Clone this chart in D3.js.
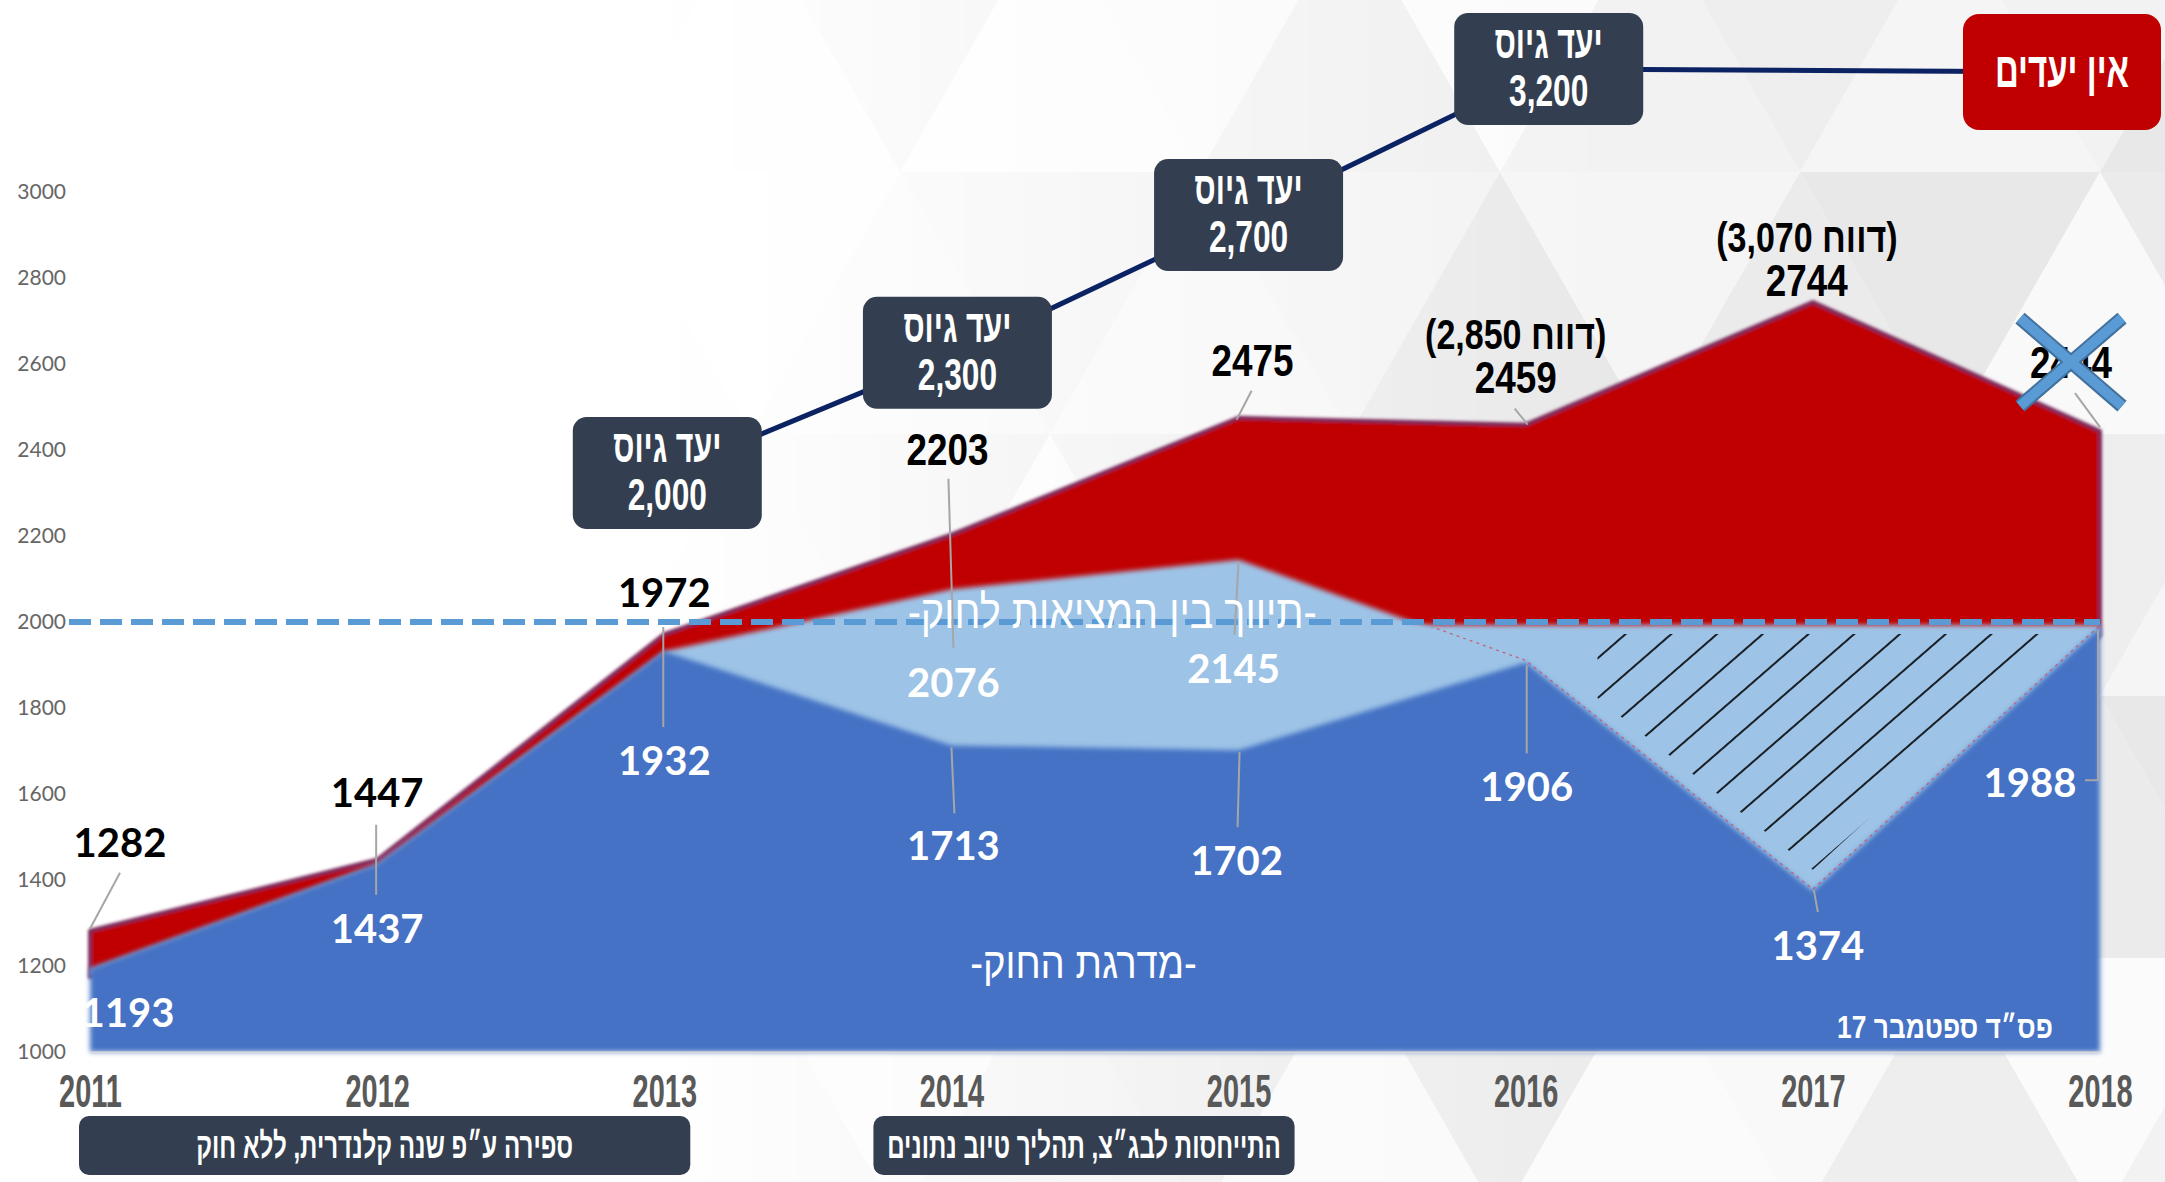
<!DOCTYPE html>
<html><head><meta charset="utf-8">
<script src="https://cdn.jsdelivr.net/npm/d3@7"></script>
<style>
html,body{margin:0;padding:0;background:#fff;}
svg{display:block;}
</style></head><body>
<svg id="chart" width="2165" height="1182"></svg>
<script>
// ---------------- DATA ----------------
const years = [2011, 2012, 2013, 2014, 2015, 2016, 2017, 2018];
const totalValues = [1282, 1447, 1972, 2203, 2475, 2459, 2744, 2444];      // red: actual recruits
const mediationValues = [1193, 1437, 1932, 2076, 2145, 1906, 1374, 1988];  // light blue top
const lawValues = [1193, 1437, 1932, 1713, 1702, 1906, 1374, 1988];        // dark blue: law count
const yTickValues = [1000, 1200, 1400, 1600, 1800, 2000, 2200, 2400, 2600, 2800, 3000];
const lawThreshold = 2000;
const gapYears = [2015, 2016, 2017, 2018];
const hatchYears = [2016.25, 2017, 2017.85];
const goalYears = [2013, 2014, 2015, 2016];
const goalValues = [2000, 2300, 2700, 3200];
const goalTitle = "יעד גיוס";
const noGoalYear = 2018;
const noGoalText = "אין יעדים";
const reportYears = [2016, 2017];
const reportValues = [2850, 3070];
const reportWord = "דווח";
const retractedYear = 2018;
const mediationLabelYears = [2014, 2015];
const periodStarts = [2011, 2014];
const periodEnds = [2013, 2015];
const periodTexts = ["ספירה ע״פ שנה קלנדרית, ללא חוק", "התייחסות לבג״צ, תהליך טיוב נתונים"];
const lawAreaText = "-מדרגת החוק-";
const mediationAreaText = "-תיווך בין המציאות לחוק-";
const rulingText = "פס״ד ספטמבר 17";

// ---------------- LAYOUT ----------------
const W = 2165, H = 1182;
const M = {left: 90, right: 2100, top: 192, bottom: 1052};
const C = {
  red: "#C00000", redEdge: "#7d2a5c", dark: "#4472C4", light: "#9DC3E6",
  dash: "#5B9BD5", box: "#333F50", goalLine: "#0B2263", tick: "#666666",
  year: "#595959", leader: "#A6A6A6"
};
const fLato = "Lato, 'Open Sans', sans-serif";
const fArial = "'Liberation Sans', Arimo, Arial, sans-serif";
const fHeb = "'Liberation Sans', 'DejaVu Sans', sans-serif";

// label offsets (px, relative to the data point) — layout only
const totalLabelLayout = [
  {dx: 30, dy: -74, font: "lato", leader: [[0, -2], [30, -58]]},
  {dx: 0, dy: -53, font: "lato", leader: [[-1, -35], [-1, 35]]},
  {dx: 0, dy: -27, font: "lato", leader: [[-1, -7], [-1, 93]]},
  {dx: -4, dy: -70, font: "arial", leader: [[-3, -56], [2, 113]]},
  {dx: 14, dy: -42, font: "arial", leader: [[13, -27], [-2, 2]]},
  {dx: -10, dy: -32, font: "arial", leader: [[-11, -16], [2, 0]]},
  {dx: -6, dy: -6, font: "arial", leader: null},
  {dx: -29, dy: -53, font: "arial", leader: [[-25, -38], [0, -4]]}
];
const mediationLabelLayout = {
  2014: {dx: 2, dy: 108, leader: null},
  2015: {dx: -5, dy: 123, leader: [[0, 2], [-4, 75]]}
};
const lawLabelLayout = [
  {dx: 38, dy: 58, leader: null},
  {dx: 0, dy: 79, leader: null},
  {dx: 0, dy: 124, leader: null},
  {dx: 2, dy: 115, leader: [[0, 2], [3, 68]]},
  {dx: -2, dy: 125, leader: [[1, 2], [-1, 77]]},
  {dx: 1, dy: 139, leader: [[1, 3], [1, 91]]},
  {dx: 5, dy: 69, leader: [[1, -1], [5, 21]]},
  {dx: -70, dy: 170, leader: [[-2, 3], [-2, 153], [-15, 153]]}
];
const goalBoxDx = [3, 6, 10, 23];
const periodPads = [[11, 26], [78, 56]];

// ---------------- SCALES ----------------
const x = d3.scaleLinear().domain([2011, 2018]).range([M.left, M.right]);
const y = d3.scaleLinear().domain([1000, 3000]).range([M.bottom, M.top]);
const goalY = d3.scaleLog().domain([2000, 3200]).range([473, 69]);
const lawAt = d3.scaleLinear().domain(years).range(lawValues);

const svg = d3.select("#chart");
const defs = svg.append("defs");

// filters
const soft = defs.append("filter").attr("id", "soft").attr("x", "-5%").attr("y", "-5%").attr("width", "110%").attr("height", "110%");
soft.append("feGaussianBlur").attr("stdDeviation", 2.6);
const softRed = defs.append("filter").attr("id", "softRed").attr("x", "-5%").attr("y", "-5%").attr("width", "110%").attr("height", "110%");
softRed.append("feGaussianBlur").attr("stdDeviation", 1.4);

// hatch pattern
const pat = defs.append("pattern").attr("id", "hatch").attr("patternUnits", "userSpaceOnUse")
  .attr("width", 30).attr("height", 30).attr("patternTransform", "rotate(-41)");
pat.append("line").attr("x1", 0).attr("x2", 30).attr("y1", 15).attr("y2", 15)
  .attr("stroke", "#000").attr("stroke-width", 1.7);

// background mask gradient
const grad = defs.append("linearGradient").attr("id", "bgGrad").attr("x1", 0).attr("x2", 1).attr("y1", 0).attr("y2", 0);
grad.append("stop").attr("offset", "0.3").attr("stop-color", "#000");
grad.append("stop").attr("offset", "0.75").attr("stop-color", "#fff");
const mask = defs.append("mask").attr("id", "bgMask");
mask.append("rect").attr("width", W).attr("height", H).attr("fill", "url(#bgGrad)");

// clip for the red dotted edge under the threshold
defs.append("clipPath").attr("id", "belowLine").append("rect")
  .attr("x", x(2015)).attr("y", y(lawThreshold) + 5).attr("width", M.right - x(2015)).attr("height", M.bottom - y(lawThreshold));

// ---------------- BACKGROUND ----------------
svg.append("rect").attr("width", W).attr("height", H).attr("fill", "#fff");
const bg = svg.append("g").attr("mask", "url(#bgMask)");
const triSide = 300, triH = 262;
const shades = ["#f5f5f5", "#eeeeee", "#f9f9f9", "#e8e8e8", "#f2f2f2", "#fbfbfb", "#ebebeb"];
for (let r = 0; r < 6; r++) {
  const off = (r % 2) * triSide / 2 - triSide;
  const y0 = r * triH - 90, y1 = y0 + triH;
  for (let i = 0; i < 10; i++) {
    const up = [[off + i * triSide, y1], [off + (i + 1) * triSide, y1], [off + (i + 0.5) * triSide, y0]];
    const dn = [[off + (i + 0.5) * triSide, y0], [off + (i + 1.5) * triSide, y0], [off + (i + 1) * triSide, y1]];
    bg.append("polygon").attr("points", up.join(" ")).attr("fill", shades[(i * 3 + r * 2) % 7]);
    bg.append("polygon").attr("points", dn.join(" ")).attr("fill", shades[(i * 3 + r * 2 + 4) % 7]);
  }
}

// ---------------- AREAS ----------------
const idx = d3.range(years.length);

const redArea = d3.area().x(i => x(years[i])).y0(i => y(mediationValues[i]) + 8).y1(i => y(totalValues[i]));
svg.append("path").datum(idx).attr("d", redArea)
  .attr("fill", C.red).attr("stroke", C.redEdge).attr("stroke-width", 4).attr("stroke-linejoin", "round")
  .attr("filter", "url(#softRed)");

const lightArea = d3.area().x(i => x(years[i])).y0(i => y(lawValues[i]) + 8).y1(i => y(mediationValues[i]));
svg.append("path").datum(idx).attr("d", lightArea).attr("fill", C.light).attr("filter", "url(#soft)");

const gapArea = d3.area().x(d => x(d)).y0(d => y(lawAt(d)) + 8).y1(() => y(lawThreshold) + 3);
svg.append("path").datum(gapYears).attr("d", gapArea).attr("fill", C.light).attr("filter", "url(#soft)");

const darkArea = d3.area().x(i => x(years[i])).y0(M.bottom).y1(i => y(lawValues[i]));
svg.append("path").datum(idx).attr("d", darkArea).attr("fill", C.dark).attr("filter", "url(#soft)");

svg.append("path").datum(idx)
  .attr("d", d3.line().x(i => x(years[i])).y(i => y(mediationValues[i]) - 2))
  .attr("fill", "none").attr("stroke", "#d0465a").attr("stroke-width", 1.3)
  .attr("stroke-dasharray", "3,4").attr("opacity", 0.75).attr("clip-path", "url(#belowLine)");

const hatchPts = hatchYears.map(t => [x(t), y(lawAt(t) + 50)])
  .concat([[x(hatchYears[2]), y(lawThreshold - 28)], [x(hatchYears[0]), y(lawThreshold - 28)]]);
svg.append("polygon").attr("points", hatchPts.join(" ")).attr("fill", "url(#hatch)");

svg.append("line").attr("x1", x(2011) - 21).attr("x2", x(2018))
  .attr("y1", y(lawThreshold)).attr("y2", y(lawThreshold))
  .attr("stroke", C.dash).attr("stroke-width", 6).attr("stroke-dasharray", "22,9");

// ---------------- AXES ----------------
const yAxis = svg.append("g").attr("transform", `translate(${M.left},0)`)
  .call(d3.axisLeft(y).tickValues(yTickValues).tickFormat(d3.format("d")).tickSize(0).tickPadding(24));
yAxis.select(".domain").remove();
yAxis.selectAll("text").attr("font-family", fLato).attr("font-size", 21).attr("fill", C.tick);

const xAxis = svg.append("g").attr("transform", `translate(0,${M.bottom})`)
  .call(d3.axisBottom(x).tickValues(years).tickFormat(d3.format("d")).tickSize(0).tickSizeOuter(0).tickPadding(22));
xAxis.select(".domain").attr("stroke", "#d9d9d9").attr("stroke-width", 2);
xAxis.selectAll("text").attr("font-family", fArial).attr("font-weight", "bold")
  .attr("font-size", 46).attr("fill", C.year).attr("transform", "scale(0.63,1)");

// ---------------- HELPERS ----------------
function addText(parent, px, py, str, o) {
  const g = parent.append("g").attr("transform", `translate(${px},${py}) scale(${o.sx || 1},1)`);
  const t = g.append("text").attr("text-anchor", "middle")
    .attr("font-family", o.family).attr("font-size", o.size)
    .attr("font-weight", o.weight || "bold").attr("fill", o.fill || "#000").text(str);
  if (o.rtl) t.attr("direction", "rtl");
  return t;
}
const leaderG = svg.append("g");
const labelG = svg.append("g");
function leader(px, py, pts) {
  if (!pts) return;
  leaderG.append("polyline").attr("points", pts.map(p => [px + p[0], py + p[1]]).join(" "))
    .attr("fill", "none").attr("stroke", C.leader).attr("stroke-width", 2);
}

// ---------------- DATA LABELS ----------------
years.forEach((yr, i) => {
  const px = x(yr), py = y(totalValues[i]);
  const L = totalLabelLayout[i];
  leader(px, py, L.leader);
  addText(labelG, px + L.dx, py + L.dy, String(totalValues[i]),
    L.font === "lato" ? {family: fLato, size: 40} : {family: fArial, size: 45, sx: 0.82});
  const ri = reportYears.indexOf(yr);
  if (ri >= 0) {
    addText(labelG, px + L.dx, py + L.dy - 44, `(${reportWord} ${d3.format(",")(reportValues[ri])})`,
      {family: fArial, size: 42, sx: 0.81, rtl: true});
  }
  if (yr === retractedYear) {
    const cx = px + L.dx, cy = py + L.dy - 16;
    const X = svg.append("g");
    const segs = [[-51, -44, 51, 44], [51, -44, -51, 44]];
    [["#41719C", 14], [C.dash, 10]].forEach(st => segs.forEach(s => {
      X.append("line").attr("x1", cx + s[0]).attr("y1", cy + s[1]).attr("x2", cx + s[2]).attr("y2", cy + s[3])
        .attr("stroke", st[0]).attr("stroke-width", st[1]);
    }));
  }
});
mediationLabelYears.forEach(yr => {
  const i = years.indexOf(yr);
  const px = x(yr), py = y(mediationValues[i]);
  const L = mediationLabelLayout[yr];
  leader(px, py, L.leader);
  addText(labelG, px + L.dx, py + L.dy, String(mediationValues[i]), {family: fLato, size: 40, fill: "#fff"});
});
years.forEach((yr, i) => {
  const px = x(yr), py = y(lawValues[i]);
  const L = lawLabelLayout[i];
  leader(px, py, L.leader);
  addText(labelG, px + L.dx, py + L.dy, String(lawValues[i]), {family: fLato, size: 40, fill: "#fff"});
});

// area annotations
addText(svg, x(2014.46), y(1172), lawAreaText, {family: fHeb, size: 44, weight: "normal", fill: "#fff", sx: 0.87, rtl: true});
addText(svg, x(2014.56), y(1986), mediationAreaText, {family: fHeb, size: 46, weight: "normal", fill: "#fff", sx: 0.86, rtl: true});
addText(svg, x(2017.46), y(1032), rulingText, {family: fHeb, size: 31, fill: "#fff", sx: 0.85, rtl: true});

// ---------------- GOAL LINE & BOXES ----------------
const goalPts = goalYears.map((yr, i) => [x(yr) + goalBoxDx[i], goalY(goalValues[i])]);
const boxW = 189, boxH = 112;
const noGoalW = 198;
const noGoalPt = [Math.min(x(noGoalYear) + 8, W - 4 - noGoalW / 2), goalY(goalValues[goalValues.length - 1]) + 3];
svg.append("path").datum(goalPts.concat([noGoalPt]))
  .attr("d", d3.line()).attr("fill", "none").attr("stroke", C.goalLine).attr("stroke-width", 5);
goalPts.forEach((p, i) => {
  svg.append("rect").attr("x", p[0] - boxW / 2).attr("y", p[1] - boxH / 2).attr("width", boxW).attr("height", boxH)
    .attr("rx", 14).attr("fill", C.box);
  addText(svg, p[0], p[1] - 11, goalTitle, {family: fHeb, size: 46, fill: "#fff", sx: 0.66, rtl: true});
  addText(svg, p[0], p[1] + 37, d3.format(",")(goalValues[i]), {family: fArial, size: 44, fill: "#fff", sx: 0.72});
});
svg.append("rect").attr("x", noGoalPt[0] - noGoalW / 2).attr("y", noGoalPt[1] - 58).attr("width", noGoalW).attr("height", 116)
  .attr("rx", 16).attr("fill", C.red);
addText(svg, noGoalPt[0], noGoalPt[1] + 15, noGoalText, {family: fHeb, size: 50, fill: "#fff", sx: 0.66, rtl: true});

// ---------------- PERIOD BOXES ----------------
periodTexts.forEach((t, i) => {
  const x0 = x(periodStarts[i]) - periodPads[i][0], x1 = x(periodEnds[i]) + periodPads[i][1];
  svg.append("rect").attr("x", x0).attr("y", 1116).attr("width", x1 - x0).attr("height", 59)
    .attr("rx", 10).attr("fill", C.box);
  addText(svg, (x0 + x1) / 2, 1158, t, {family: fHeb, size: 36, fill: "#fff", sx: 0.67, rtl: true});
});
</script>
</body></html>
